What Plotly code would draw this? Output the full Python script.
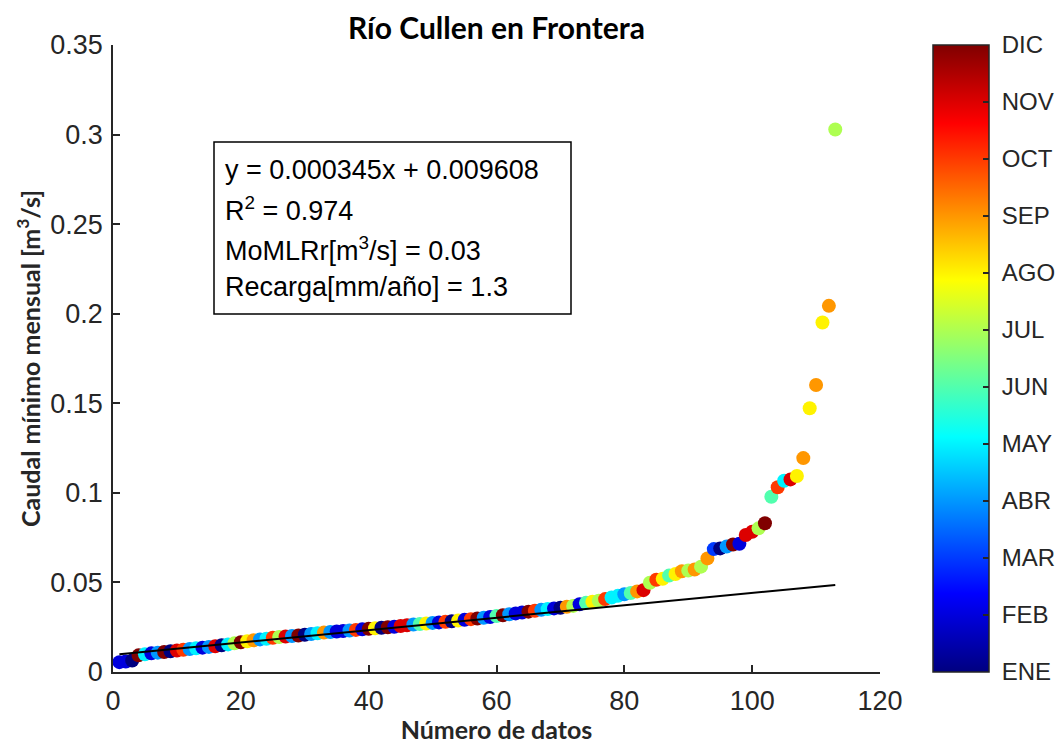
import plotly.graph_objects as go

# ---------------- data ----------------
months = ["ENE", "FEB", "MAR", "ABR", "MAY", "JUN", "JUL", "AGO", "SEP", "OCT", "NOV", "DIC"]
month_codes = list(range(1, 13))

# sorted minimum monthly discharge (m3/s), index 1..113
caudal = [
    0.0055, 0.0059, 0.0064, 0.0093, 0.0099, 0.0104, 0.0108, 0.0112, 0.0116, 0.0120,
    0.0124, 0.0128, 0.0132, 0.0136, 0.0140, 0.0144, 0.0149, 0.0154, 0.0160, 0.0166,
    0.0172, 0.0177, 0.0182, 0.0186, 0.0191, 0.0195, 0.0198, 0.0201, 0.0204, 0.0208,
    0.0212, 0.0216, 0.0220, 0.0223, 0.0226, 0.0229, 0.0232, 0.0235, 0.0238, 0.0241,
    0.0244, 0.0247, 0.0250, 0.0253, 0.0257, 0.0261, 0.0265, 0.0268, 0.0271, 0.0274,
    0.0277, 0.0280, 0.0283, 0.0287, 0.0291, 0.0295, 0.0299, 0.0303, 0.0307, 0.0312,
    0.0317, 0.0322, 0.0327, 0.0332, 0.0337, 0.0342, 0.0347, 0.0351, 0.0355, 0.0359,
    0.0364, 0.0369, 0.0378, 0.0386, 0.0392, 0.0398, 0.0407, 0.0416, 0.0425, 0.0434,
    0.0441, 0.0450, 0.0457, 0.0498, 0.0515, 0.0520, 0.0538, 0.0547, 0.0562, 0.0566,
    0.0572, 0.0588, 0.0634, 0.0686, 0.0690, 0.0700, 0.0712, 0.0716, 0.0765, 0.0783,
    0.0802, 0.0830, 0.0978, 0.1031, 0.1068, 0.1075, 0.1094, 0.1194, 0.1472, 0.1602,
    0.1951, 0.2044, 0.3028,
]

# month of each value (1 = ENE ... 12 = DIC)
mes = [
    2, 2, 1, 12, 5, 2, 4, 12, 1, 11,
    10, 4, 5, 2, 4, 11, 1, 5, 7, 12,
    8, 9, 4, 5, 10, 7, 11, 4, 12, 1,
    4, 5, 9, 4, 2, 2, 4, 10, 2, 12,
    8, 1, 12, 2, 11, 11, 4, 6, 8, 4,
    2, 10, 1, 8, 2, 10, 12, 4, 2, 6,
    12, 4, 2, 2, 12, 10, 4, 5, 2, 1,
    9, 7, 2, 6, 8, 7, 10, 5, 5, 4,
    6, 9, 11, 7, 10, 8, 6, 8, 9, 7,
    9, 7, 9, 3, 1, 4, 12, 2, 11, 11,
    7, 12, 6, 10, 5, 11, 8, 9, 8, 9,
    8, 9, 7,
]

n_datos = list(range(1, len(caudal) + 1))

# regression line and summary values
pendiente = 0.000345
intercepto = 0.009608
r2 = 0.974
momlrr = 0.03
recarga = 1.3

x_ticks = [0, 20, 40, 60, 80, 100, 120]
y_ticks = [0, 0.05, 0.1, 0.15, 0.2, 0.25, 0.3, 0.35]
y_ticklabels = ["0", "0.05", "0.1", "0.15", "0.2", "0.25", "0.3", "0.35"]

# ---------------- style ----------------
matlab_jet = [
    [0.0, "rgb(0,0,128)"],
    [0.125, "rgb(0,0,255)"],
    [0.375, "rgb(0,255,255)"],
    [0.625, "rgb(255,255,0)"],
    [0.875, "rgb(255,0,0)"],
    [1.0, "rgb(128,0,0)"],
]
axcol = "#262626"
sans = "Liberation Sans, Arial, sans-serif"
tickfont = dict(family=sans, size=27, color=axcol)
cbfont = dict(family=sans, size=24, color=axcol)
boldfont = "Lato, Liberation Sans, sans-serif"

fig = go.Figure()

fig.add_trace(go.Scatter(
    x=n_datos, y=caudal, mode="markers",
    marker=dict(
        size=14, color=mes, colorscale=matlab_jet, cmin=1, cmax=12,
        line=dict(width=0),
        colorbar=dict(
            tickvals=month_codes, ticktext=["\u00a0" + m for m in months],
            ticks="inside", ticklen=6, tickwidth=1.5, tickcolor=axcol,
            tickfont=cbfont,
            thickness=56, thicknessmode="pixels",
            len=1.0, lenmode="fraction", y=0.5, yanchor="middle", ypad=0,
            x=(933 - 113) / 767, xanchor="left", xpad=0,
            outlinecolor=axcol, outlinewidth=1.5,
        ),
    ),
    showlegend=False,
))

x_line = [n_datos[0], n_datos[-1]]
y_line = [pendiente * v + intercepto for v in x_line]
fig.add_trace(go.Scatter(
    x=x_line, y=y_line, mode="lines",
    line=dict(color="black", width=2), showlegend=False,
))

# text box
px2x = lambda px: (px - 113) / 767
py2y = lambda py: (672 - py) / 627
fig.add_shape(type="rect", xref="paper", yref="paper",
              x0=px2x(214), x1=px2x(571), y0=py2y(314), y1=py2y(142),
              line=dict(color="black", width=1.5), fillcolor="white", layer="above")
lines = [
    f"y = {pendiente:.6f}x + {intercepto:.6f}",
    f"R<sup>2</sup> = {r2}",
    f"MoMLRr[m<sup>3</sup>/s] = {momlrr}",
    f"Recarga[mm/año] = {recarga}",
]
centers = [170, 209, 249, 287]
for t, c in zip(lines, centers):
    fig.add_annotation(text=t, xref="paper", yref="paper",
                       x=px2x(223), y=py2y(c), xanchor="left", yanchor="middle",
                       showarrow=False, align="left",
                       font=dict(family=sans, size=27, color="black"))

fig.update_layout(
    width=1060, height=744,
    margin=dict(l=113, r=180, t=45, b=72, autoexpand=False),
    paper_bgcolor="white", plot_bgcolor="white",
    title=dict(text="<b>Río Cullen en Frontera</b>", x=0.5, xref="paper",
               y=1 - 28 / 744, yref="container", yanchor="middle", xanchor="center",
               font=dict(family=boldfont, size=30, color="black")),
    xaxis=dict(
        range=[0, 120], tickvals=x_ticks, ticks="inside", ticklen=7, tickwidth=1.5,
        tickcolor=axcol, showline=True, linecolor=axcol, linewidth=1.5,
        showgrid=False, zeroline=False, tickfont=tickfont, ticklabelstandoff=4,
        automargin=False,
        title=dict(text="<b>Número de datos</b>", standoff=4,
                   font=dict(family=boldfont, size=25, color=axcol)),
    ),
    yaxis=dict(
        range=[0, 0.35], tickvals=y_ticks, ticktext=y_ticklabels, ticks="inside",
        ticklen=7, tickwidth=1.5, tickcolor=axcol, showline=True, linecolor=axcol,
        linewidth=1.5, showgrid=False, zeroline=False, tickfont=tickfont,
        ticklabelstandoff=3, automargin=False,
        title=dict(text="<b>Caudal mínimo mensual [m<sup>3</sup>/s]</b>", standoff=3,
                   font=dict(family=boldfont, size=25, color=axcol)),
    ),
)

fig.write_html("out.html", config={"displayModeBar": False},
               post_script="document.body.style.margin='0';")
